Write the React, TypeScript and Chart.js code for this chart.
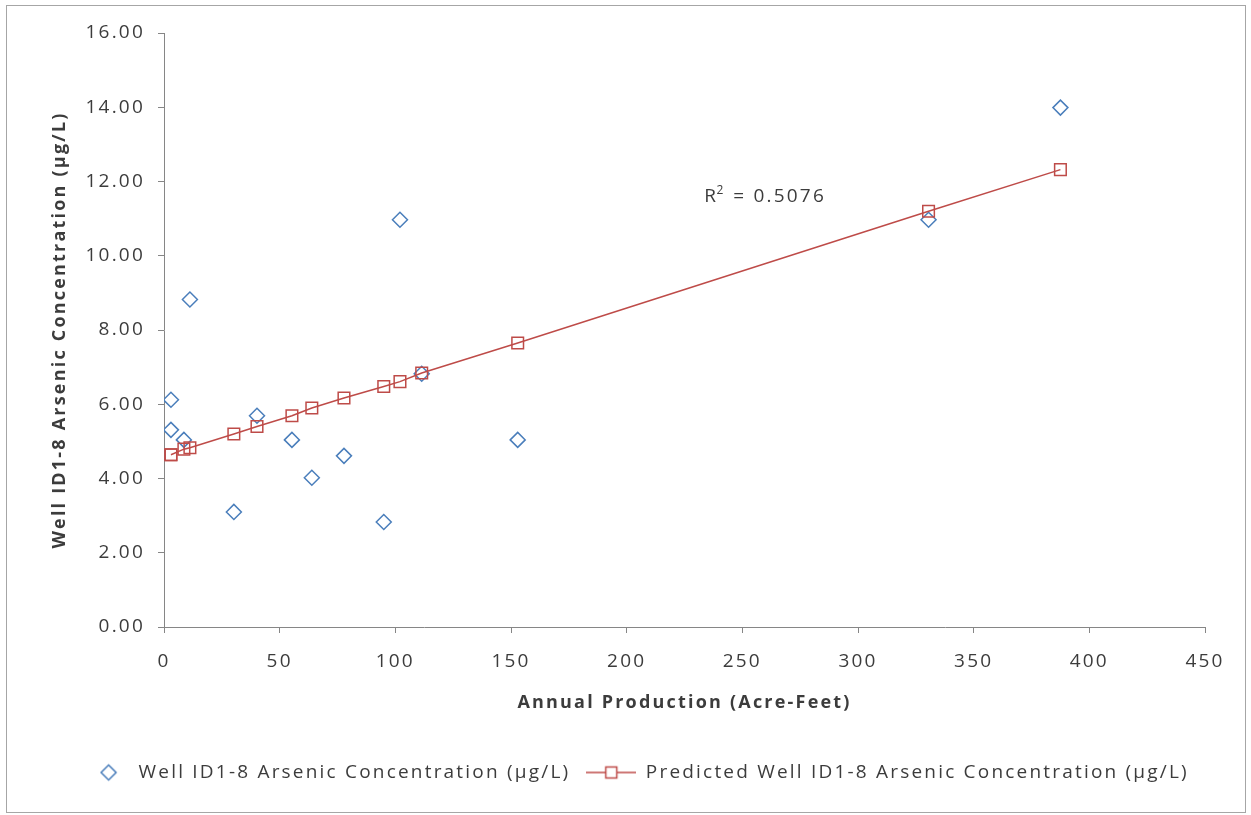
import React, { useEffect, useRef } from 'react';
import { Chart, registerables } from 'chart.js';

Chart.register(...registerables);

// Annual production (acre-feet) for each well sample
const productionX = [3, 3, 8.6, 11.2, 30.2, 40.2, 55.3, 63.9, 77.8, 95.0, 102.0, 111.4, 152.9, 330.5, 387.5];
// Measured arsenic concentration (µg/L)
const measuredY = [6.12, 5.31, 5.04, 8.82, 3.10, 5.69, 5.04, 4.02, 4.61, 2.83, 10.97, 6.82, 5.04, 10.97, 13.99];
// Predicted arsenic concentration (µg/L) at the same production values
const predictedY = [4.64, 4.64, 4.79, 4.83, 5.20, 5.40, 5.69, 5.90, 6.17, 6.48, 6.61, 6.84, 7.65, 11.20, 12.32];

const seriesNames = [
  'Well ID1-8 Arsenic Concentration (µg/L)',
  'Predicted Well ID1-8 Arsenic Concentration (µg/L)',
];
const xAxisTitle = 'Annual Production (Acre-Feet)';
const yAxisTitle = 'Well ID1-8 Arsenic Concentration (µg/L)';
const rSquaredValue = '0.5076';
const rSquaredAnchor = { x: 233.5, y: 11.6 };

const X_MIN = 0, X_MAX = 450, X_STEP = 50;
const Y_MIN = 0, Y_MAX = 16, Y_STEP = 2;

const BLUE = '#4A7EBB';
const RED = '#BE4B48';
const AXIS = '#868686';
const TEXT = '#3c3c3c';
const FONT = '"Open Sans", "Noto Sans", sans-serif';
const SPACING = '2.2px';

function makeDiamondIcon(): HTMLCanvasElement {
  const c = document.createElement('canvas');
  c.width = 50; c.height = 20;
  const g = c.getContext('2d')!;
  g.strokeStyle = BLUE; g.lineWidth = 1.5;
  const cx = 29.5;
  g.beginPath();
  g.moveTo(cx, 2.5); g.lineTo(cx + 7.5, 10); g.lineTo(cx, 17.5); g.lineTo(cx - 7.5, 10); g.closePath();
  g.stroke();
  return c;
}

function makeLineSquareIcon(): HTMLCanvasElement {
  const c = document.createElement('canvas');
  c.width = 50; c.height = 20;
  const g = c.getContext('2d')!;
  g.strokeStyle = RED; g.lineWidth = 1.5;
  g.beginPath(); g.moveTo(0, 10); g.lineTo(50, 10); g.stroke();
  g.fillStyle = '#fff';
  g.fillRect(19.5, 4.5, 11, 11);
  g.strokeRect(19.5, 4.5, 11, 11);
  return c;
}

const spacingPlugin = {
  id: 'letterSpacing',
  beforeUpdate(chart: any) { chart.ctx.letterSpacing = SPACING; },
  beforeDraw(chart: any) { chart.ctx.letterSpacing = SPACING; },
};

const rSquaredPlugin = {
  id: 'rSquaredLabel',
  afterDatasetsDraw(chart: any) {
    const { ctx, scales } = chart;
    const px = scales.x.getPixelForValue(rSquaredAnchor.x);
    const py = scales.y.getPixelForValue(rSquaredAnchor.y);
    ctx.save();
    ctx.letterSpacing = SPACING;
    ctx.fillStyle = TEXT;
    ctx.textBaseline = 'middle';
    ctx.textAlign = 'left';
    ctx.font = `19px ${FONT}`;
    ctx.fillText('R', px, py);
    const rw = ctx.measureText('R').width;
    ctx.font = `12px ${FONT}`;
    ctx.fillText('2', px + rw - 1.5, py - 6);
    const sw = ctx.measureText('2').width;
    ctx.font = `19px ${FONT}`;
    ctx.fillText(` = ${rSquaredValue}`, px + rw + sw - 1, py);
    ctx.restore();
  },
};

export default function App() {
  const ref = useRef<HTMLCanvasElement | null>(null);

  useEffect(() => {
    if (!ref.current) return;
    const measuredPts = productionX.map((x, i) => ({ x, y: measuredY[i] }));
    const predictedPts = productionX.map((x, i) => ({ x, y: predictedY[i] }));
    const icons = [makeDiamondIcon(), makeLineSquareIcon()];

    const chart = new Chart(ref.current, {
      type: 'scatter',
      data: {
        datasets: [
          {
            label: seriesNames[0],
            data: measuredPts,
            showLine: false,
            pointStyle: 'rectRot',
            pointRadius: 7.5,
            pointBorderWidth: 1.5,
            pointBorderColor: BLUE,
            pointBackgroundColor: 'rgba(0,0,0,0)',
            order: 2,
          },
          {
            label: seriesNames[1],
            data: predictedPts,
            showLine: true,
            borderColor: RED,
            borderWidth: 1.5,
            pointStyle: 'rect',
            pointRadius: 8.2,
            pointBorderWidth: 1.5,
            pointBorderColor: RED,
            pointBackgroundColor: 'rgba(0,0,0,0)',
            order: 1,
          },
        ],
      },
      options: {
        responsive: false,
        animation: false,
        layout: { padding: { left: 63, top: 33, right: 46, bottom: 23 } },
        plugins: {
          tooltip: { enabled: false },
          legend: {
            position: 'bottom',
            labels: {
              usePointStyle: true,
              pointStyleWidth: 50,
              color: TEXT,
              font: { family: FONT, size: 19 },
              padding: 16,
              generateLabels: (ch: any) =>
                ch.data.datasets.map((ds: any, i: number) => ({
                  text: ds.label,
                  pointStyle: icons[i],
                  fillStyle: 'transparent',
                  strokeStyle: 'transparent',
                  lineWidth: 0,
                  hidden: false,
                  datasetIndex: i,
                  fontColor: TEXT,
                })),
            },
          },
        },
        scales: {
          x: {
            type: 'linear',
            min: X_MIN,
            max: X_MAX,
            afterFit: (s: any) => { s.height = 120; },
            ticks: {
              stepSize: X_STEP,
              color: TEXT,
              font: { family: FONT, size: 19 },
              padding: 17,
            },
            grid: { drawOnChartArea: false, drawTicks: true, tickLength: 6, color: AXIS },
            border: { display: true, color: AXIS, width: 1 },
            title: {
              display: true,
              text: xAxisTitle,
              color: TEXT,
              font: { family: FONT, size: 18, weight: 'bold' },
              padding: { top: 0, bottom: 33 },
            },
          },
          y: {
            type: 'linear',
            min: Y_MIN,
            max: Y_MAX,
            afterFit: (s: any) => { s.width = 101; },
            ticks: {
              stepSize: Y_STEP,
              color: TEXT,
              font: { family: FONT, size: 19 },
              padding: 13,
              callback: (v: any) => Number(v).toFixed(2),
            },
            grid: { drawOnChartArea: false, drawTicks: true, tickLength: 6, color: AXIS },
            border: { display: true, color: AXIS, width: 1 },
            title: {
              display: true,
              text: yAxisTitle,
              color: TEXT,
              font: { family: FONT, size: 18, weight: 'bold' },
              padding: { top: -14, bottom: 0 },
            },
          },
        },
      },
      plugins: [spacingPlugin, rSquaredPlugin],
    } as any);

    return () => chart.destroy();
  }, []);

  return (
    <div style={{ position: 'fixed', left: 0, top: 0, width: 1251, height: 815, background: '#fff' }}>
      <canvas ref={ref} width={1251} height={815} style={{ position: 'absolute', left: 0, top: 0, width: 1251, height: 815 }} />
      <div style={{ position: 'absolute', left: 6, top: 5, width: 1240, height: 808, border: '1px solid #a6a6a6', boxSizing: 'border-box', pointerEvents: 'none' }} />
    </div>
  );
}
